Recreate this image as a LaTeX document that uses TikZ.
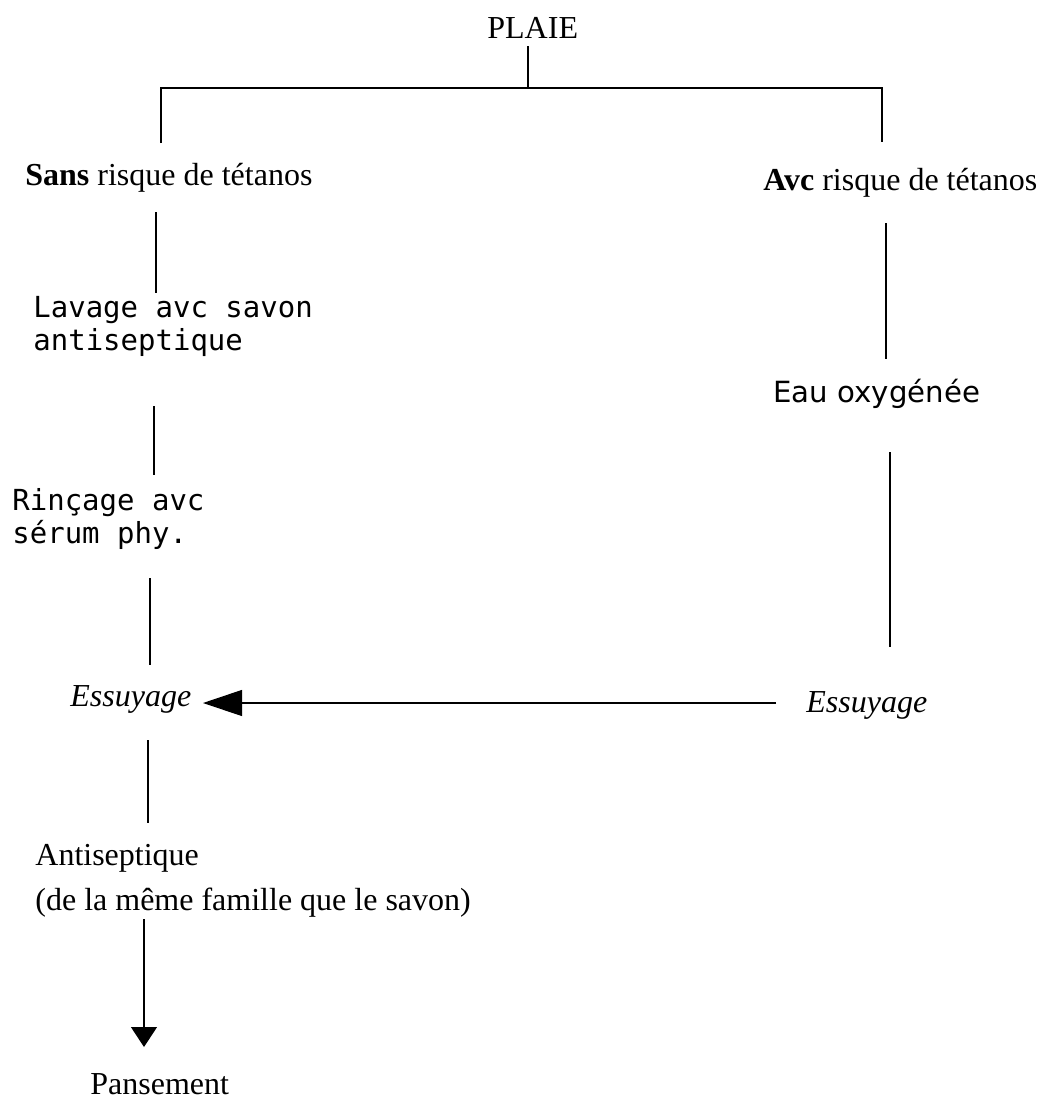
\documentclass[tikz,border=0pt]{standalone}
\usepackage{fontspec}
\setmainfont{Liberation Serif}
\newfontfamily\monofont{DejaVu Sans Mono}
\newfontfamily\sansfont{DejaVu Sans}
\usetikzlibrary{arrows.meta}
\tikzset{
    txt/.style={inner sep=0pt, anchor=base west, align=left,
        font=\fontsize{16}{22.5}\selectfont},
    mono/.style={txt, font=\monofont\fontsize{14.5}{16.5}\selectfont},
    sans/.style={txt, font=\sansfont\fontsize{14.6}{17}\selectfont},
    link/.style={line width=0.55pt},
    flow/.style={link, -{Triangle[length=19.5pt, width=13pt]}},
    down/.style={link, -{Triangle[length=10pt, width=13pt]}}
}
\begin{document}
\begin{tikzpicture}[x=0.5pt, y=-0.5pt]
    \useasboundingbox (0,0) rectangle (1042,1099);
    % Texts (base = last line)
    \node[txt] (plaie) at (487,38) {PLAIE};
    \node[txt] (sans) at (25,185) {\textbf{Sans} risque de tétanos};
    \node[txt] (avec) at (763,190) {\textbf{Avc} risque de tétanos};
    \node[mono] (lavage) at (33,350) {Lavage avc savon\\antiseptique};
    \node[mono] (rincage) at (12,543) {Rinçage avc\\sérum phy.};
    \node[sans] (eau) at (773,402) {Eau oxygénée};
    \node[txt] (essG) at (70,706) {\itshape Essuyage};
    \node[txt] (essD) at (806,712) {\itshape Essuyage};
    \node[txt] (antis) at (35,910) {Antiseptique\\(de la même famille que le savon)};
    \node[txt] (pans) at (90,1094) {Pansement};

    % Line ends
    \coordinate (plaie-b) at (528,46);
    \coordinate (fourche) at (528,88);
    \coordinate (fourche-g) at (161,88);
    \coordinate (fourche-d) at (882,88);
    \coordinate (sans-h) at (161,143);
    \coordinate (avec-h) at (882,142);
    \coordinate (sans-b) at (156,212);
    \coordinate (lavage-h) at (156,293);
    \coordinate (lavage-b) at (154,406);
    \coordinate (rincage-h) at (154,475);
    \coordinate (rincage-b) at (150,578);
    \coordinate (essG-h) at (150,665);
    \coordinate (essG-b) at (148,740);
    \coordinate (antis-h) at (148,823);
    \coordinate (antis-b) at (144,919);
    \coordinate (pans-h) at (144,1047);
    \coordinate (avec-b) at (886,223);
    \coordinate (eau-h) at (886,359);
    \coordinate (eau-b) at (890,452);
    \coordinate (essD-h) at (890,647);
    \coordinate (essD-g) at (776,703);
    \coordinate (essG-d) at (203,703);

    % Tree
    \draw[link] (plaie-b) -- (fourche);
    \draw[link] (sans-h) -- (fourche-g) -- (fourche-d) -- (avec-h);
    % Left branch
    \draw[link] (sans-b) -- (lavage-h);
    \draw[link] (lavage-b) -- (rincage-h);
    \draw[link] (rincage-b) -- (essG-h);
    \draw[link] (essG-b) -- (antis-h);
    \draw[down] (antis-b) -- (pans-h);
    % Right branch
    \draw[link] (avec-b) -- (eau-h);
    \draw[link] (eau-b) -- (essD-h);
    \draw[flow] (essD-g) -- (essG-d);
\end{tikzpicture}
\end{document}
